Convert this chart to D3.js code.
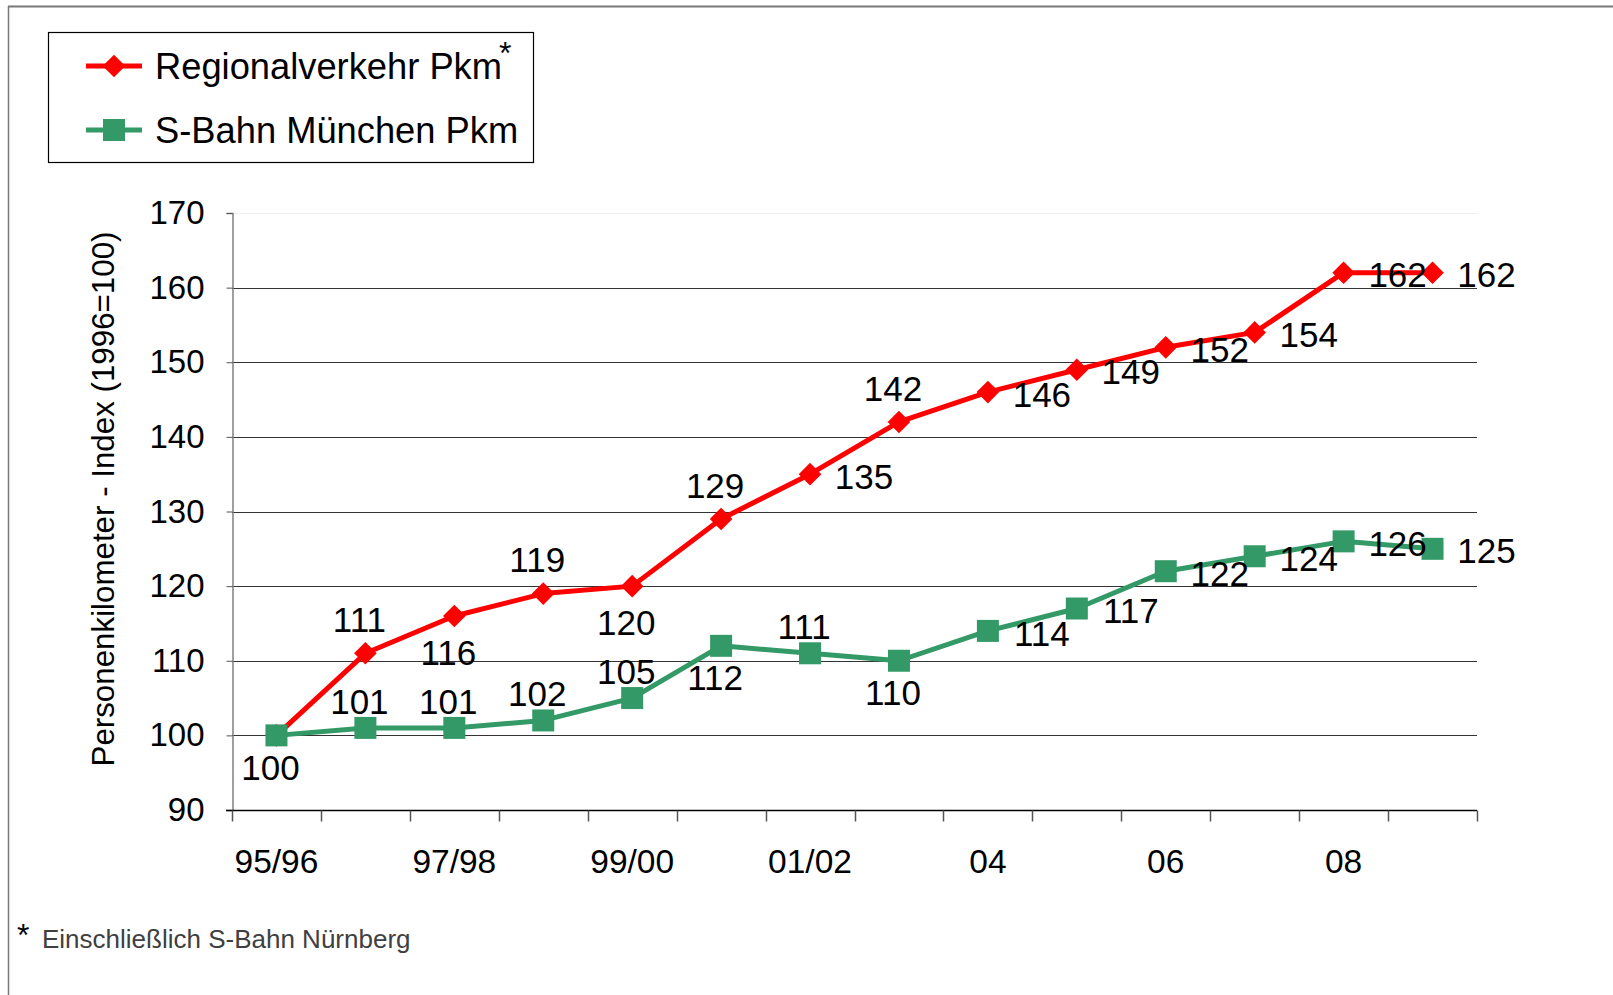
<!DOCTYPE html>
<html>
<head>
<meta charset="utf-8">
<script src="https://cdn.jsdelivr.net/npm/d3@7"></script>
<style>
  html, body { margin: 0; padding: 0; background: #fff; }
  svg { display: block; font-family: "Liberation Sans", Arial, sans-serif; }
</style>
</head>
<body>
<svg id="chart" width="1613" height="995"></svg>
<script>
// Daten (Index 1996 = 100)
const years = ['95/96', '96/97', '97/98', '98/99', '99/00', '00/01', '01/02',
               '03', '04', '05', '06', '07', '08', '09'];
const tickLabels = ['95/96', '', '97/98', '', '99/00', '', '01/02',
                    '', '04', '', '06', '', '08', ''];
const regional = [100, 111, 116, 119, 120, 129, 135, 142, 146, 149, 152, 154, 162, 162];
const sbahn    = [100, 101, 101, 102, 105, 112, 111, 110, 114, 117, 122, 124, 126, 125];
const yTicks   = [90, 100, 110, 120, 130, 140, 150, 160, 170];

// Lage der Datenbeschriftungen
const regionalPos = ['none', 'above', 'below', 'above', 'below', 'above', 'right',
                     'above', 'right', 'right', 'right', 'right', 'right', 'right'];
const sbahnPos    = ['below', 'above', 'above', 'above', 'above', 'below', 'above',
                     'below', 'right', 'right', 'right', 'right', 'right', 'right'];

const RED = '#ff0000';
const GREEN = '#339966';

const svg = d3.select('#chart');
const M = { left: 232, right: 1477, top: 213, bottom: 810 };

const x = d3.scaleBand().domain(years).range([M.left, M.right]);
const y = d3.scaleLinear().domain([90, 170]).range([M.bottom, M.top]);
const cx = d => x(d) + x.bandwidth() / 2;

// Rahmen
svg.append('line').attr('x1', 8).attr('x2', 1613).attr('y1', 6.5).attr('y2', 6.5)
  .attr('stroke', '#777').attr('stroke-width', 2);
svg.append('line').attr('x1', 8.5).attr('x2', 8.5).attr('y1', 6).attr('y2', 995)
  .attr('stroke', '#777').attr('stroke-width', 1.5);

// Gitternetz
svg.append('g').selectAll('line')
  .data(yTicks.filter(t => t > 90)).enter().append('line')
  .attr('x1', M.left).attr('x2', M.right)
  .attr('y1', d => Math.round(y(d)) + 0.5).attr('y2', d => Math.round(y(d)) + 0.5)
  .attr('stroke', d => d === 170 ? '#eeeeee' : '#333')
  .attr('stroke-width', 1.2);

// Y-Achse
const yAxis = svg.append('g')
  .attr('transform', `translate(${M.left + 0.5},0)`)
  .call(d3.axisLeft(y).tickValues(yTicks).tickSize(6).tickPadding(22));
yAxis.select('.domain').attr('stroke', '#808080').attr('stroke-width', 1.5);
yAxis.selectAll('.tick line').attr('stroke', '#555');
yAxis.selectAll('.tick text').attr('font-size', 33).attr('fill', '#000')
  .attr('font-family', '"Liberation Sans", Arial, sans-serif');

// X-Achse
const xAxis = svg.append('g')
  .attr('transform', `translate(0,${M.bottom + 0.5})`);
xAxis.append('line').attr('x1', M.left - 6).attr('x2', M.right)
  .attr('stroke', '#000').attr('stroke-width', 1.5);
const bounds = years.map(d => x(d)).concat([M.right]);
xAxis.selectAll('.xt').data(bounds).enter().append('line')
  .attr('x1', d => Math.round(d) + 0.5).attr('x2', d => Math.round(d) + 0.5)
  .attr('y1', 0).attr('y2', 11).attr('stroke', '#555').attr('stroke-width', 1.5);
xAxis.selectAll('.xl').data(years).enter().append('text')
  .attr('x', d => cx(d)).attr('y', 62)
  .attr('text-anchor', 'middle').attr('font-size', 33.5)
  .text((d, i) => tickLabels[i]);

// Achsentitel
svg.append('text')
  .attr('transform', 'translate(114,499) rotate(-90)')
  .attr('text-anchor', 'middle').attr('font-size', 31.3)
  .text('Personenkilometer - Index (1996=100)');

// Linien
const line = vals => d3.line().x((d, i) => cx(years[i])).y(d => y(d))(vals);

function drawSeries(vals, color, shape) {
  const g = svg.append('g');
  g.append('path').attr('d', line(vals)).attr('fill', 'none')
    .attr('stroke', color).attr('stroke-width', 5).attr('stroke-linejoin', 'round');
  g.selectAll('path.m').data(vals).enter().append('path')
    .attr('class', 'm')
    .attr('transform', (d, i) => `translate(${cx(years[i])},${y(d)})${shape === 'diamond' ? ' rotate(45)' : ''}`)
    .attr('d', shape === 'diamond' ? 'M-8,-8H8V8H-8Z' : 'M-11,-11H11V11H-11Z')
    .attr('fill', color);
}

function drawLabels(vals, pos, off) {
  const g = svg.append('g').attr('font-size', 35);
  vals.forEach((v, i) => {
    const p = pos[i];
    if (p === 'none') return;
    let dx = 0, dy = 0;
    if (p === 'above') { dx = -6; dy = off.above; }
    if (p === 'below') { dx = -6; dy = off.below; }
    if (p === 'right') { dx = 54; dy = 2; }
    g.append('text')
      .attr('x', cx(years[i]) + dx).attr('y', y(v) + dy)
      .attr('dy', '0.36em').attr('text-anchor', 'middle')
      .text(v);
  });
}

drawSeries(regional, RED, 'diamond');
drawSeries(sbahn, GREEN, 'square');
drawLabels(regional, regionalPos, { above: -34, below: 36 });
drawLabels(sbahn, sbahnPos, { above: -27, below: 32 });

// Legende
const leg = svg.append('g');
leg.append('rect').attr('x', 48.5).attr('y', 32.5).attr('width', 485).attr('height', 130)
  .attr('fill', '#fff').attr('stroke', '#000').attr('stroke-width', 1.2);
const legItems = [
  { name: 'Regionalverkehr Pkm', color: RED, shape: 'diamond', y: 66, star: true },
  { name: 'S-Bahn München Pkm', color: GREEN, shape: 'square', y: 130, star: false }
];
legItems.forEach(d => {
  leg.append('line').attr('x1', 86).attr('x2', 142).attr('y1', d.y).attr('y2', d.y)
    .attr('stroke', d.color).attr('stroke-width', 5);
  leg.append('path')
    .attr('transform', `translate(114,${d.y})${d.shape === 'diamond' ? ' rotate(45)' : ''}`)
    .attr('d', d.shape === 'diamond' ? 'M-8,-8H8V8H-8Z' : 'M-11,-11H11V11H-11Z')
    .attr('fill', d.color);
  leg.append('text').attr('x', 155).attr('y', d.y).attr('dy', '0.36em')
    .attr('font-size', 36.3).text(d.name);
  if (d.star) {
    leg.append('text').attr('x', 499).attr('y', d.y - 2).attr('font-size', 32).text('*');
  }
});

// Fußnote
svg.append('text').attr('x', 17).attr('y', 946).attr('font-size', 32).text('*');
svg.append('text').attr('x', 42).attr('y', 948).attr('font-size', 26).attr('fill', '#404040')
  .text('Einschließlich S-Bahn Nürnberg');
</script>
</body>
</html>
